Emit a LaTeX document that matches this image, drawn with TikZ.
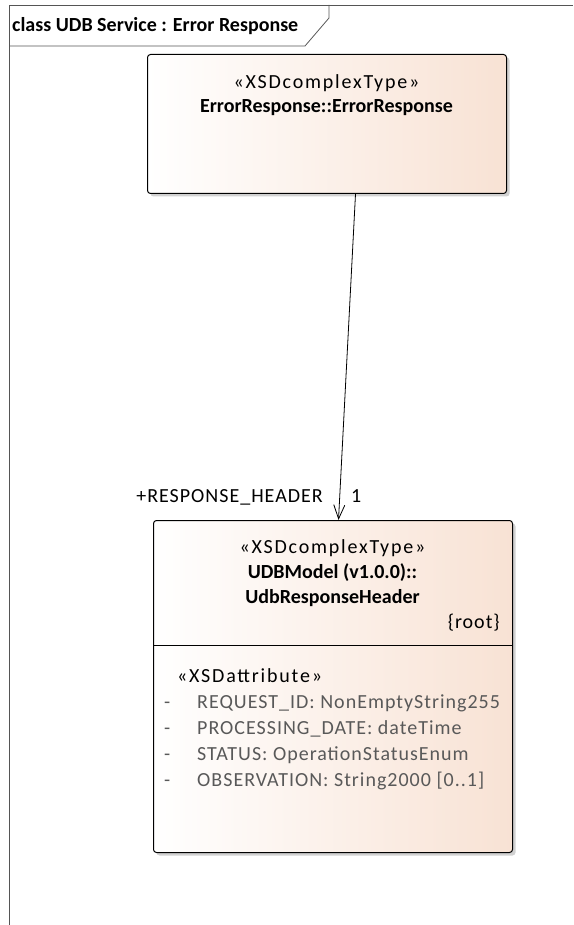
\documentclass[tikz,border=0pt]{standalone}
\usepackage{fontspec}
\setmainfont{Carlito}
\newfontfamily\umlreg[LetterSpace=5]{Carlito}
\newfontfamily\umlster[LetterSpace=9]{Carlito}
\usetikzlibrary{arrows.meta,shadows}
\definecolor{boxpeach}{HTML}{F8E2D4}
\definecolor{attrgray}{HTML}{595959}
\definecolor{framegray}{HTML}{555555}
\tikzset{
  classbox/.style={shape=rectangle, draw=black, line width=1pt, rounded corners=3pt,
    left color=white, right color=boxpeach, anchor=north west, inner sep=0pt,
    drop shadow={shadow xshift=3pt, shadow yshift=-3pt, fill=black!30, opacity=0.6}},
  txt/.style={font=\umlreg\fontsize{20}{24}\selectfont, anchor=base, inner sep=0pt},
  ster/.style={txt, font=\umlster\fontsize{20}{24}\selectfont},
  bold/.style={txt, font=\bfseries\fontsize{20}{24}\selectfont},
  attr/.style={txt, anchor=base west, text=attrgray},
  assoc/.style={-{Straight Barb[length=14pt,width=11pt]}, line width=0.8pt},
}
\begin{document}
\begin{tikzpicture}[x=1pt,y=-1pt]
    \useasboundingbox (0,0) rectangle (573,925);
    % frame
    \draw[framegray, line width=0.8pt] (9,925) -- (9,5) -- (573,5);
    \draw[framegray, line width=0.8pt] (9,46) -- (305,46) -- (329,18) -- (329,5);
    \node[bold, anchor=base west] (title) at (12,32) {class UDB Service : Error Response};

    % classes
    \node[classbox, minimum width=359pt, minimum height=139pt] (err) at (147,54) {};
    \node[classbox, minimum width=359pt, minimum height=332pt] (hdr) at (153,520) {};
    \draw[line width=1pt] (153,645) -- (512,645);

    \node[ster] (err-st) at (326.5,89) {«XSDcomplexType»};
    \node[bold] (err-nm) at (326.5,113) {ErrorResponse::ErrorResponse};

    \node[ster] (hdr-st) at (332.5,553) {«XSDcomplexType»};
    \node[bold] (hdr-nm1) at (332.5,578) {UDBModel (v1.0.0)::};
    \node[bold] (hdr-nm2) at (332.5,603) {UdbResponseHeader};
    \node[txt, anchor=base east] (hdr-root) at (500,628) {\{root\}};

    \node[ster, anchor=base west] (attr-st) at (177,682) {«XSDattribute»};
    \node[attr] (d1) at (164,708) {-};
    \node[attr] (a1) at (197,708) {REQUEST\_ID: NonEmptyString255};
    \node[attr] (d2) at (164,734) {-};
    \node[attr] (a2) at (197,734) {PROCESSING\_DATE: dateTime};
    \node[attr] (d3) at (164,760) {-};
    \node[attr] (a3) at (197,760) {STATUS: OperationStatusEnum};
    \node[attr] (d4) at (164,786) {-};
    \node[attr] (a4) at (197,786) {OBSERVATION: String2000 [0..1]};

    % association
    \draw[assoc] ([xshift=28.5pt]err.south) -- ([xshift=5.5pt]hdr.north);
    \node[txt, anchor=base east] (role) at (323,502) {+RESPONSE\_HEADER};
    \node[txt, anchor=base west] (mult) at (351,502) {1};
\end{tikzpicture}
\end{document}
